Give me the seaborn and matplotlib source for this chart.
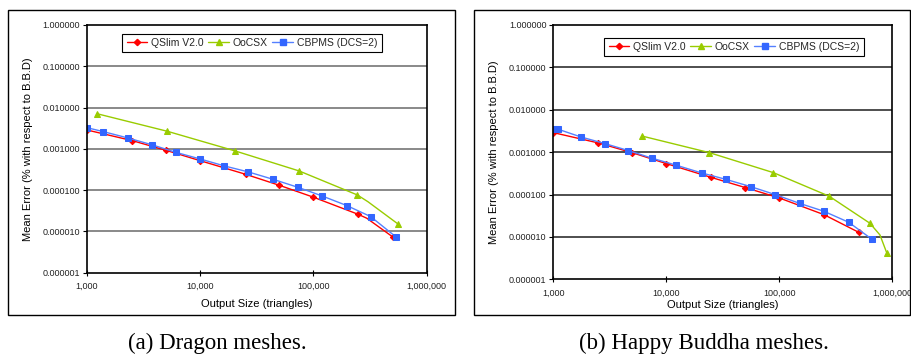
import matplotlib
matplotlib.use("Agg")
import matplotlib.pyplot as plt
import seaborn as sns
import pandas as pd
from matplotlib.patches import Rectangle
from matplotlib.lines import Line2D

# ---------------- data ----------------
# (a) Dragon
dr_qslim_x = [1000, 2530, 4980, 10000, 25300, 50100, 100000, 248000, 296000, 501000]
dr_qslim_y = [0.00286, 0.00157, 0.00092, 0.000515, 0.00024, 0.00013, 6.7e-5, 2.58e-5, 2.07e-5, 7.3e-6]
dr_qslim_mk = [0, 1, 2, 3, 4, 5, 6, 7, 9]
dr_oocsx_x = [1225, 5150, 20400, 74800, 244000, 303000, 562000]
dr_oocsx_y = [0.0071, 0.00265, 0.000885, 0.00029, 7.6e-5, 5.2e-5, 1.48e-5]
dr_oocsx_mk = [0, 1, 2, 3, 4, 6]
dr_cbpms_x = [1000, 1403, 2300, 3795, 6100, 10000, 16400, 26700, 44000, 73300,
              119000, 197000, 320000, 532000]
dr_cbpms_y = [0.00325, 0.0026, 0.00183, 0.00124, 0.00082, 0.000566, 0.000383, 0.000274,
              0.000182, 0.000116, 7.2e-5, 4.2e-5, 2.27e-5, 7.4e-6]
dr_cbpms_mk = list(range(len(dr_cbpms_x)))

# (b) Happy Buddha
hb_qslim_x = [1000, 2500, 4970, 10000, 24800, 50000, 100000, 248000, 503000]
hb_qslim_y = [0.00289, 0.00165, 0.000975, 0.000537, 0.000255, 0.000146, 8.3e-5, 3.36e-5, 1.29e-5]
hb_qslim_mk = list(range(len(hb_qslim_x)))
hb_oocsx_x = [6050, 24000, 88500, 277000, 634000, 778000, 891000]
hb_oocsx_y = [0.00241, 0.000975, 0.000329, 9.1e-5, 2.1e-5, 1.11e-5, 4.27e-6]
hb_oocsx_mk = [0, 1, 2, 3, 4, 6]
hb_cbpms_x = [1000, 1093, 1757, 2865, 4616, 7520, 12300, 20550, 33500, 55700, 91600,
              151000, 248000, 411000, 661000]
hb_cbpms_y = [0.00352, 0.0035, 0.00228, 0.00159, 0.00109, 0.000717, 0.00049, 0.000323,
              0.000229, 0.000154, 0.0001, 6.2e-5, 4.03e-5, 2.22e-5, 8.8e-6]
hb_cbpms_mk = list(range(len(hb_cbpms_x)))

series_names = ["QSlim V2.0", "OoCSX", "CBPMS (DCS=2)"]
x_ticks = [1000, 10000, 100000, 1000000]
x_tick_labels = ["1,000", "10,000", "100,000", "1,000,000"]
y_ticks = [1e-6, 1e-5, 1e-4, 1e-3, 1e-2, 1e-1, 1.0]
y_tick_labels = ["0.000001", "0.000010", "0.000100", "0.001000", "0.010000", "0.100000", "1.000000"]
x_label = "Output Size (triangles)"
y_label = "Mean Error (% with respect to B.B.D)"
captions = ["(a) Dragon meshes.", "(b) Happy Buddha meshes."]

# ---------------- style ----------------
sns.set_theme(style="white")
plt.rcParams["font.family"] = ["Liberation Sans", "DejaVu Sans"]

W, H = 911, 354
fig = plt.figure(figsize=(W / 100, H / 100), dpi=100)
fig.patch.set_facecolor("white")

def px_axes(x0, y0, x1, y1):
    return fig.add_axes([x0 / W, 1 - y1 / H, (x1 - x0) / W, (y1 - y0) / H])

styles = [
    dict(color="#FF0000", marker="D", ms=3.2, mfc="#FF0000", mec="#FF0000"),
    dict(color="#99CC00", marker="^", ms=4.2, mfc="#99CC00", mec="#99CC00"),
    dict(color="#5580FF", marker="s", ms=3.8, mfc="#3366FF", mec="#3366FF"),
]

panels = [
    dict(box=(8, 10, 455, 315), ax=(86.7, 25, 426.7, 272.5),
         data=[(dr_qslim_x, dr_qslim_y, dr_qslim_mk), (dr_oocsx_x, dr_oocsx_y, dr_oocsx_mk),
               (dr_cbpms_x, dr_cbpms_y, dr_cbpms_mk)],
         leg=(122, 34, 382, 52), xl=304, cap=(217, 343), grid="#808080"),
    dict(box=(474, 10, 910, 315), ax=(553.3, 25, 892.3, 279.3),
         data=[(hb_qslim_x, hb_qslim_y, hb_qslim_mk), (hb_oocsx_x, hb_oocsx_y, hb_oocsx_mk),
               (hb_cbpms_x, hb_cbpms_y, hb_cbpms_mk)],
         leg=(604, 38, 864, 56), xl=305, cap=(704, 343), grid="#404040"),
]

for i, p in enumerate(panels):
    bx0, by0, bx1, by1 = p["box"]
    fig.patches.append(Rectangle((bx0 / W, 1 - by1 / H), (bx1 - bx0) / W, (by1 - by0) / H,
                                 transform=fig.transFigure, fill=False, edgecolor="black",
                                 linewidth=1.0, zorder=0))
    ax = px_axes(*p["ax"])
    for name, (xs, ys, mk), st in zip(series_names, p["data"], styles):
        df = pd.DataFrame({"x": xs, "y": ys})
        sns.lineplot(data=df, x="x", y="y", ax=ax, linewidth=1.0,
                     markevery=mk, sort=False, legend=False, **st)
    ax.set_xscale("log")
    ax.set_yscale("log")
    ax.set_xlim(1000, 1000000)
    ax.set_ylim(1e-6, 1.0)
    ax.set_xticks(x_ticks)
    ax.set_xticklabels(x_tick_labels)
    ax.set_yticks(y_ticks)
    ax.set_yticklabels(y_tick_labels)
    ax.minorticks_off()
    ax.tick_params(axis="x", which="major", direction="inout", length=5, width=0.8,
                   labelsize=6.5, pad=4, colors="black", bottom=True)
    ax.tick_params(axis="y", which="major", direction="out", length=3, width=0.8,
                   labelsize=6.5, pad=2, colors="black", left=True)
    for tl in ax.get_xticklabels() + ax.get_yticklabels():
        tl.set_color("#222222")
    for y in y_ticks[1:-1]:
        ax.axhline(y, color=p["grid"], linewidth=1.3, zorder=0.5)
    for s in ax.spines.values():
        s.set_color("black")
        s.set_linewidth(1.2)
    ax.set_xlabel(x_label, fontsize=8, color="black")
    ax.set_ylabel(y_label, fontsize=8, color="black")
    ax_x0, ax_y0, ax_x1, ax_y1 = p["ax"]
    ax.xaxis.set_label_coords(0.5, -(p["xl"] - ax_y1) / (ax_y1 - ax_y0), transform=ax.transAxes)
    ax.xaxis.label.set_va("center")
    ax.yaxis.set_label_coords(-59 / (ax_x1 - ax_x0), 0.5, transform=ax.transAxes)
    ax.yaxis.label.set_va("center")
    handles = [Line2D([], [], linewidth=1.0, **st) for st in styles]
    lx0, ly0, lx1, ly1 = p["leg"]
    leg = ax.legend(handles, series_names, loc="center",
                    bbox_to_anchor=(((lx0 + lx1) / 2 - ax_x0) / (ax_x1 - ax_x0),
                                    1 - ((ly0 + ly1) / 2 - ax_y0) / (ax_y1 - ax_y0)),
                    ncol=3, fontsize=7.5, frameon=True, fancybox=False, edgecolor="black",
                    framealpha=1, handlelength=2.0, handletextpad=0.35, columnspacing=0.45,
                    borderpad=0.4, borderaxespad=0, numpoints=1)
    leg.get_frame().set_linewidth(0.8)
    fig.text(p["cap"][0] / W, 1 - p["cap"][1] / H, captions[i],
             family=["Liberation Serif", "DejaVu Serif"], fontsize=16.5,
             ha="center", va="center", color="black")

fig.savefig("out.png", dpi=100, facecolor="white")
